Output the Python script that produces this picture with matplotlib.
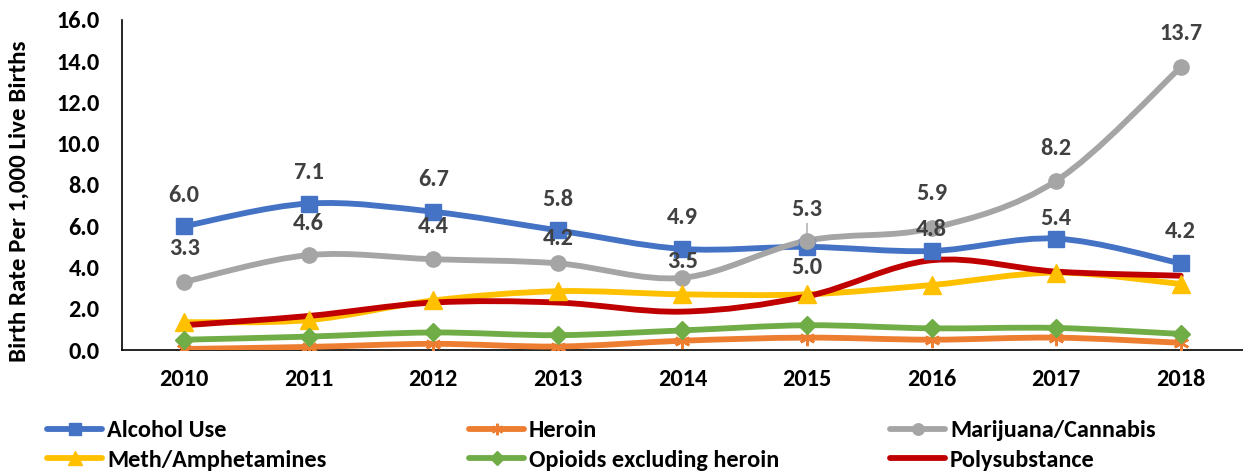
import matplotlib
matplotlib.use('Agg')
import matplotlib.pyplot as plt
from matplotlib.path import Path
from matplotlib.patches import PathPatch
from matplotlib.lines import Line2D
import numpy as np

plt.rcParams['font.family'] = ['Carlito', 'DejaVu Sans']
plt.rcParams['font.weight'] = 'bold'

years = ['2010', '2011', '2012', '2013', '2014', '2015', '2016', '2017', '2018']

alcohol = [6.0, 7.1, 6.7, 5.8, 4.9, 5.0, 4.8, 5.4, 4.2]
heroin = [0.05, 0.15, 0.3, 0.17, 0.45, 0.6, 0.5, 0.6, 0.35]
marijuana = [3.3, 4.6, 4.4, 4.2, 3.5, 5.3, 5.9, 8.2, 13.7]
meth = [1.35, 1.45, 2.4, 2.85, 2.7, 2.7, 3.15, 3.75, 3.2]
opioids = [0.5, 0.65, 0.85, 0.72, 0.95, 1.2, 1.05, 1.07, 0.78]
poly = [1.2, 1.65, 2.3, 2.3, 1.86, 2.6, 4.35, 3.8, 3.6]

# label offsets in pixels (positive = above the point)
alcohol_off = [31, 31, 32, 31, 31, -21, 21, 20, 32]
marijuana_off = [33, 32, 33, 25, 16, 31, 35, 32, 34]

series = [
    ('Alcohol Use', alcohol, '#4472C4', 's', 11),
    ('Heroin', heroin, '#ED7D31', (6, 2, 0), 11),
    ('Marijuana/Cannabis', marijuana, '#A5A5A5', 'o', 11),
    ('Meth/Amphetamines', meth, '#FFC000', '^', 13),
    ('Opioids excluding heroin', opioids, '#70AD47', 'D', 9),
    ('Polysubstance', poly, '#C00000', None, 0),
]

FS = 17.5


def smooth_path(xs, ys):
    # bezier segments through every point, like a spreadsheet "smoothed line"
    pts = np.column_stack([xs, ys]).astype(float)
    n = len(pts)
    verts = [pts[0]]
    codes = [Path.MOVETO]
    for i in range(n - 1):
        p0 = pts[i - 1] if i > 0 else pts[i]
        p1 = pts[i]
        p2 = pts[i + 1]
        p3 = pts[i + 2] if i + 2 < n else pts[i + 1]
        c1 = p1 + (p2 - p0) / 6.0
        c2 = p2 - (p3 - p1) / 6.0
        verts += [c1, c2, p2]
        codes += [Path.CURVE4] * 3
    return Path(verts, codes)


fig = plt.figure(figsize=(12.43, 4.73), dpi=100)
ax = fig.add_axes([0.098, 0.260, 0.902, 0.698])
x = np.arange(len(years))

handles = []
for name, vals, color, marker, ms in series:
    patch = PathPatch(smooth_path(x, vals), facecolor='none', edgecolor=color,
                      lw=4.2, capstyle='round', joinstyle='round', zorder=3)
    ax.add_patch(patch)
    mew = 1.8 if marker == (6, 2, 0) else 1
    if marker is not None:
        ax.plot(x, vals, linestyle='none', marker=marker, ms=ms, color=color,
                mec=color, mew=mew, zorder=4)
    handles.append(Line2D([], [], color=color, lw=4.2, marker=marker,
                          ms=ms * 0.75 if marker else 0, mec=color, mew=mew,
                          solid_capstyle='round'))

lab_color = '#404040'
for i in range(len(years)):
    ax.annotate(f'{alcohol[i]:.1f}', (x[i], alcohol[i]), xytext=(0, alcohol_off[i]),
                textcoords='offset pixels', ha='center', va='center',
                fontsize=FS, fontweight='bold', color=lab_color, zorder=5)
    ax.annotate(f'{marijuana[i]:.1f}', (x[i], marijuana[i]), xytext=(0, marijuana_off[i]),
                textcoords='offset pixels', ha='center', va='center',
                fontsize=FS, fontweight='bold', color=lab_color, zorder=5)

# leader line for the 2015 cannabis label
ax.annotate('', (x[5], marijuana[5]), xytext=(0, 20), textcoords='offset pixels',
            arrowprops=dict(arrowstyle='-', color='#A5A5A5', lw=1), zorder=2)

ax.set_xlim(-0.5, len(years) - 0.5)
ax.set_ylim(0, 16)
ax.set_xticks(x)
ax.set_xticklabels(years)
ax.set_yticks(np.arange(0, 17, 2))
ax.set_yticklabels([f'{v:.1f}' for v in np.arange(0, 17, 2)])
ax.tick_params(length=0, labelsize=FS)
ax.tick_params(axis='y', pad=16)
ax.tick_params(axis='x', pad=14)
for lab in ax.get_xticklabels() + ax.get_yticklabels():
    lab.set_fontweight('bold')
ax.spines['top'].set_visible(False)
ax.spines['right'].set_visible(False)
ax.spines['left'].set_linewidth(1.2)
ax.spines['bottom'].set_linewidth(1.2)
ax.set_ylabel('Birth Rate Per 1,000 Live Births', fontsize=18, fontweight='bold', labelpad=8)
ax.yaxis.set_label_coords(-0.082, 0.45)

# legend: three columns of two entries each, at fixed column positions
col_x = [45 / 1243, 467 / 1243, 888 / 1243]
col_idx = [[0, 3], [1, 4], [2, 5]]
for c in range(3):
    idx = col_idx[c]
    fig.legend([handles[i] for i in idx], [series[i][0] for i in idx],
               loc='lower left', bbox_to_anchor=(col_x[c], 0.0), frameon=False,
               handlelength=2.25, handletextpad=0.2, labelspacing=0.35,
               borderpad=0.0, borderaxespad=0.1, prop={'weight': 'bold', 'size': FS})

fig.savefig('out.png', dpi=100)
